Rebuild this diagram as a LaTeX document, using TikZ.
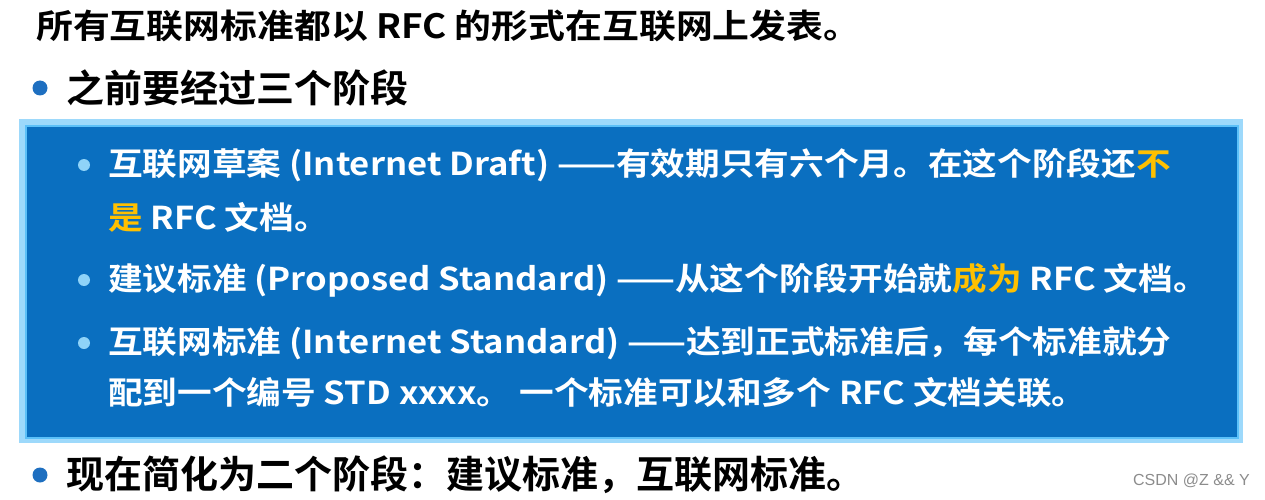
\documentclass[tikz,border=0pt]{standalone}
\usepackage{fontspec}
\newfontfamily\cjk{Noto Sans CJK SC Bold}
\newfontfamily\cjkw[FakeStretch=1.1]{Noto Sans CJK SC Bold}
\newfontfamily\wm{Liberation Sans}
\definecolor{boxblue}{HTML}{0A6FC0}
\definecolor{glow}{HTML}{5BC0F8}
\definecolor{dot}{HTML}{1E6FC0}
\definecolor{ldot}{HTML}{8FD3F8}
\definecolor{hl}{HTML}{FFC000}
\tikzset{
  t/.style={anchor=west,inner sep=0pt,font=\cjk\fontsize{#1}{#1}\selectfont},
  tw/.style={anchor=west,inner sep=0pt,font=\cjkw\fontsize{#1}{#1}\selectfont},
  w/.style={tw=31.5,text=white},
  bul/.style={circle,fill=dot,minimum size=15pt,inner sep=0pt},
  lbul/.style={circle,fill=ldot,minimum size=12pt,inner sep=0pt}
}
\begin{document}
\begin{tikzpicture}[x=1pt,y=-1pt]
\useasboundingbox (0,0) rectangle (1265,500);
\node[tw=33.5] (title) at (36,26) {所有互联网标准都以 RFC 的形式在互联网上发表。};
\node[bul] (b1) at (40,88) {};
\node[t=38] (s1) at (66,88) {之前要经过三个阶段};
\draw[glow!60,line width=6pt] (22,122) rectangle (1240,440);
\node[draw=glow,line width=2pt,fill=boxblue,minimum width=1212pt,minimum height=312pt,anchor=north west,inner sep=0pt] (box) at (25,125) {};
\node[lbul] (c1) at (84,165) {};
\node[w] (l1) at (108,165) {互联网草案 (Internet Draft) ——有效期只有六个月。在这个阶段还\textcolor{hl}{不}};
\node[w] (l1b) at (108,217) {\textcolor{hl}{是} RFC 文档。};
\node[lbul] (c2) at (84,280) {};
\node[w] (l2) at (108,280) {建议标准 (Proposed Standard) ——从这个阶段开始就\textcolor{hl}{成为} RFC 文档。};
\node[lbul] (c3) at (84,343) {};
\node[w] (l3) at (108,343) {互联网标准 (Internet Standard) ——达到正式标准后，每个标准就分};
\node[w] (l3b) at (108,393) {配到一个编号 STD xxxx。 一个标准可以和多个 RFC 文档关联。};
\node[bul] (b2) at (40,475) {};
\node[t=38] (s2) at (66,475) {现在简化为二个阶段：建议标准，互联网标准。};
\node[anchor=east,inner sep=0pt,font=\wm\fontsize{16}{16}\selectfont,text=black!45] (wm) at (1250,481) {CSDN @Z \&\& Y};
\end{tikzpicture}
\end{document}
